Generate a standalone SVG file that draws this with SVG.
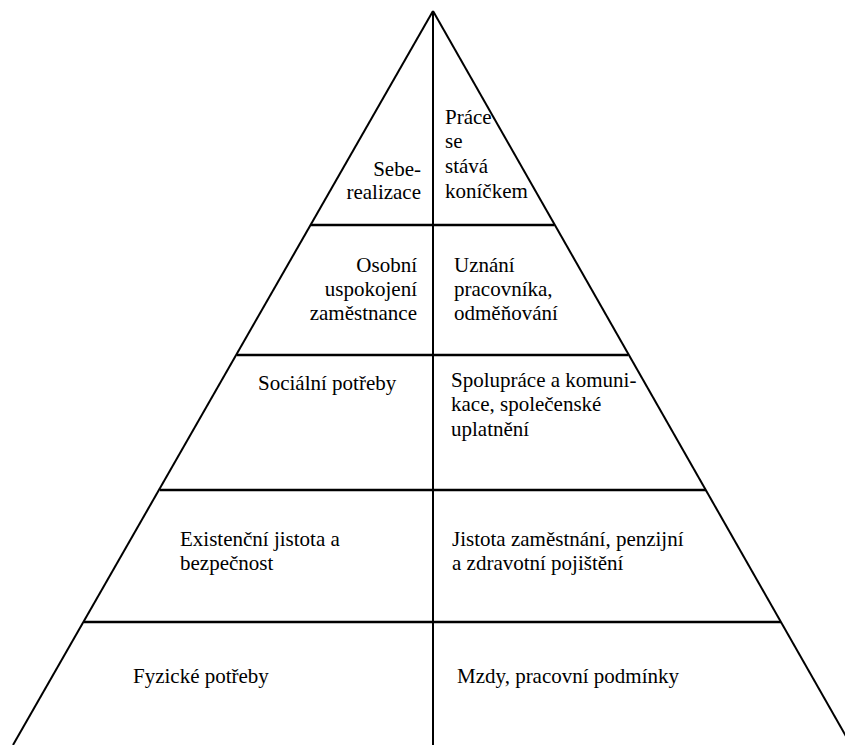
<svg xmlns="http://www.w3.org/2000/svg" width="845" height="745" viewBox="0 0 845 745">
  <rect width="845" height="745" fill="#fff"/>

  <!-- pyramid outline, tier dividers and centre axis -->
  <g id="lines" stroke="#000" fill="none">
    <line stroke-width="2" x1="433" y1="11" x2="13" y2="745"/>
    <line stroke-width="2" x1="433" y1="11" x2="851" y2="745"/>
    <line stroke-width="2" x1="433" y1="11" x2="433" y2="745"/>
    <line stroke-width="2.5" x1="311" y1="225" x2="554" y2="225"/>
    <line stroke-width="2.5" x1="237" y1="355" x2="628" y2="355"/>
    <line stroke-width="2.5" x1="160" y1="490" x2="706" y2="490"/>
    <line stroke-width="2.5" x1="84" y1="622" x2="781" y2="622"/>
  </g>

  <!-- tier 1: self-realisation -->
  <g id="tier1">
    <text x="421" y="176" font-family="Times New Roman" font-size="21" text-anchor="end">Sebe-</text>
    <text x="421" y="199" font-family="Times New Roman" font-size="21" text-anchor="end">realizace</text>
    <text x="445" y="124" font-family="Times New Roman" font-size="21">Práce</text>
    <text x="445" y="148" font-family="Times New Roman" font-size="21">se</text>
    <text x="445" y="173" font-family="Times New Roman" font-size="21">stává</text>
    <text x="445" y="198" font-family="Times New Roman" font-size="21">koníčkem</text>
  </g>

  <!-- tier 2: esteem -->
  <g id="tier2">
    <text x="417" y="272" font-family="Times New Roman" font-size="21" text-anchor="end">Osobní</text>
    <text x="417" y="296" font-family="Times New Roman" font-size="21" text-anchor="end">uspokojení</text>
    <text x="417" y="320" font-family="Times New Roman" font-size="21" text-anchor="end">zaměstnance</text>
    <text x="454" y="272" font-family="Times New Roman" font-size="21">Uznání</text>
    <text x="454" y="296" font-family="Times New Roman" font-size="21">pracovníka,</text>
    <text x="454" y="320" font-family="Times New Roman" font-size="21">odměňování</text>
  </g>

  <!-- tier 3: social needs -->
  <g id="tier3">
    <text x="258" y="390" font-family="Times New Roman" font-size="21">Sociální potřeby</text>
    <text x="451" y="387" font-family="Times New Roman" font-size="21">Spolupráce a komuni-</text>
    <text x="451" y="411" font-family="Times New Roman" font-size="21">kace, společenské</text>
    <text x="451" y="436" font-family="Times New Roman" font-size="21">uplatnění</text>
  </g>

  <!-- tier 4: security -->
  <g id="tier4">
    <text x="180" y="546" font-family="Times New Roman" font-size="21">Existenční jistota a</text>
    <text x="180" y="570" font-family="Times New Roman" font-size="21">bezpečnost</text>
    <text x="452" y="546" font-family="Times New Roman" font-size="21">Jistota zaměstnání, penzijní</text>
    <text x="452" y="570" font-family="Times New Roman" font-size="21">a zdravotní pojištění</text>
  </g>

  <!-- tier 5: physiological needs -->
  <g id="tier5">
    <text x="133" y="683" font-family="Times New Roman" font-size="21">Fyzické potřeby</text>
    <text x="457" y="683" font-family="Times New Roman" font-size="21">Mzdy, pracovní podmínky</text>
  </g>
</svg>
